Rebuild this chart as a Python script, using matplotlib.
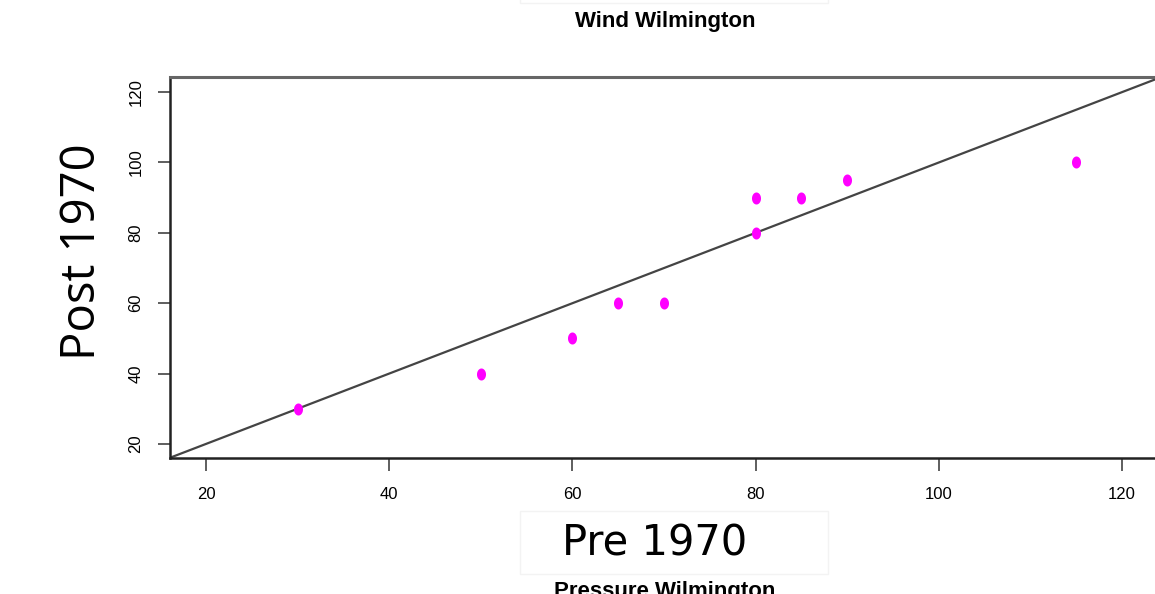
import matplotlib
matplotlib.use("Agg")
import matplotlib.pyplot as plt
import numpy as np
from matplotlib.path import Path
from matplotlib.patches import Rectangle

pre_1970 = [30, 50, 60, 65, 70, 80, 80, 85, 90, 115]
post_1970 = [30, 40, 50, 60, 60, 90, 80, 90, 95, 100]
x_ticks = [20, 40, 60, 80, 100, 120]
y_ticks = [20, 40, 60, 80, 100, 120]

W, H = 1155, 594
fig = plt.figure(figsize=(W / 100, H / 100), dpi=100)

# faint boxes behind title and x label
for (bx0, by0, bx1, by1) in [(520, -5, 828, 3), (520, 511, 828, 574)]:
    fig.patches.append(Rectangle((bx0 / W, 1 - by1 / H), (bx1 - bx0) / W, (by1 - by0) / H,
                                 transform=fig.transFigure, facecolor="white",
                                 edgecolor="#f3f3f3", lw=1.0))

x0, x1 = 170, 1188
y0, y1 = 77, 458
ax = fig.add_axes([x0 / W, 1 - y1 / H, (x1 - x0) / W, (y1 - y0) / H])
ax.set_xlim(16.07, 127.2)
ax.set_ylim(16.0, 124.3)

lim = np.array([0, 140])
ax.plot(lim, lim, color="#444444", lw=1.6, zorder=2)

t = np.linspace(0, 2 * np.pi, 40)
ell = Path(np.column_stack([0.75 * np.cos(t), np.sin(t)]))
ax.scatter(pre_1970, post_1970, marker=ell, s=75, color="#ff00ff", zorder=3, linewidths=0)

ax.set_xticks(x_ticks)
ax.set_yticks(y_ticks)
ax.set_xticklabels([str(v) for v in x_ticks])
ax.set_yticklabels([str(v) for v in y_ticks], rotation=90, va="center")
ax.tick_params(direction="out", length=9, width=1.1, color="#333333", labelsize=12)
ax.tick_params(axis="x", pad=12)
ax.tick_params(axis="y", pad=10)
for lab in ax.get_xticklabels() + ax.get_yticklabels():
    lab.set_family("Liberation Sans")
ax.spines["right"].set_visible(False)
for s in ["left", "bottom"]:
    ax.spines[s].set_color("#222222")
    ax.spines[s].set_linewidth(1.8)
ax.spines["top"].set_color("#666666")
ax.spines["top"].set_linewidth(2.2)

fig.text(665 / W, 1 - 22 / H, "Wind Wilmington", ha="center", va="center",
         fontsize=16, fontweight="bold", family="Liberation Sans")
fig.text(655 / W, 1 - 543 / H, "Pre 1970", ha="center", va="center",
         fontsize=30, family="DejaVu Sans")
fig.text(82 / W, 1 - 252 / H, "Post 1970", ha="center", va="center",
         fontsize=34, family="Open Sans", rotation=90)
fig.text(665 / W, 1 - 591 / H, "Pressure Wilmington", ha="center", va="center",
         fontsize=16, fontweight="bold", family="Liberation Sans")

fig.savefig("out.png", dpi=100)
